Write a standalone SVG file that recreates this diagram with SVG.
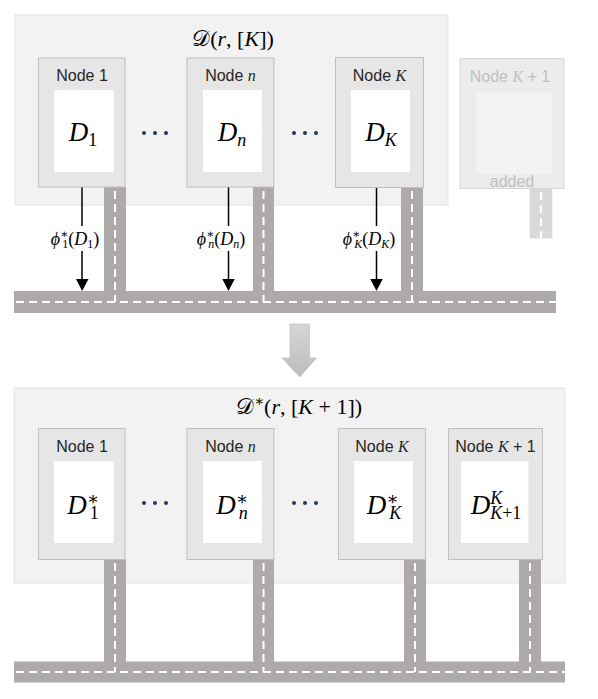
<svg xmlns="http://www.w3.org/2000/svg" width="598" height="699" viewBox="0 0 598 699">
<defs>
<style>
.panel{fill:#f2f2f2;stroke:#e3e3e3;stroke-width:1}
.node{fill:#e7e6e6;stroke:#bfbfbf;stroke-width:1}
.inner{fill:#ffffff}
.fnode{fill:#ececec;stroke:#d6d6d6;stroke-width:1}
.finner{fill:#f3f3f3}
.road{fill:#aeaaaa}
.froad{fill:#d9d9d9;stroke:#cfcfcf;stroke-width:0.5}
.dash{stroke:#ffffff;stroke-width:2;stroke-dasharray:8 5;fill:none}
.lbl{font-family:"Liberation Sans","Open Sans",sans-serif;font-size:16px;fill:#262626;text-anchor:middle}
.flbl{font-family:"Liberation Sans","Open Sans",sans-serif;font-size:16px;fill:#bfbfbf;text-anchor:middle}
.math{font-family:"Liberation Serif","DejaVu Serif",serif;fill:#000000;text-anchor:middle}
.it{font-style:italic}
.dots{fill:#1f3864}
.arr{stroke:#000000;stroke-width:1.5;fill:none}
.head{fill:#000000}
</style>
<linearGradient id="bg" x1="0" y1="0" x2="0" y2="1">
<stop offset="0" stop-color="#d6d6d6"/>
<stop offset="1" stop-color="#bcbcbc"/>
</linearGradient>
</defs>

<!-- top panel -->
<g id="panel-top">
<rect class="panel" x="15" y="15" width="433" height="190"/>
<text class="math" x="233" y="46" font-size="22">𝒟(<tspan class="it">r</tspan>, [<tspan class="it">K</tspan>])</text>
</g>

<!-- roads top -->
<g id="connectors-top">
<rect class="road" x="14" y="291" width="542" height="22"/>
<rect class="road" x="104" y="187" width="22" height="104"/>
<rect class="road" x="253" y="187" width="21" height="104"/>
<rect class="road" x="401" y="187" width="22" height="104"/>
<line class="dash" x1="16" y1="302" x2="556" y2="302"/>
<line class="dash" x1="115" y1="191" x2="115" y2="302"/>
<line class="dash" x1="263.5" y1="191" x2="263.5" y2="302"/>
<line class="dash" x1="412" y1="191" x2="412" y2="302"/>
<rect class="froad" x="530" y="188" width="22" height="50"/>
<line class="dash" x1="541" y1="192" x2="541" y2="238"/>
<line class="arr" x1="82" y1="187" x2="82" y2="226"/>
<line class="arr" x1="82" y1="251" x2="82" y2="280"/>
<polygon class="head" points="76,279 88.5,279 82.2,291"/>
<line class="arr" x1="228.5" y1="187" x2="228.5" y2="226"/>
<line class="arr" x1="228.5" y1="251" x2="228.5" y2="280"/>
<polygon class="head" points="222.3,279 234.7,279 228.5,291"/>
<line class="arr" x1="376.5" y1="187" x2="376.5" y2="226"/>
<line class="arr" x1="376.5" y1="251" x2="376.5" y2="280"/>
<polygon class="head" points="370.3,279 382.7,279 376.5,291"/>
<text class="math" x="75" y="245" font-size="18"><tspan class="it">ϕ</tspan><tspan font-size="12" dy="-7">∗</tspan><tspan font-size="12" dx="-6" dy="10">1</tspan><tspan dy="-3">(</tspan><tspan class="it">D</tspan><tspan font-size="12" dy="3">1</tspan><tspan dy="-3">)</tspan></text>
<text class="math" x="221" y="245" font-size="18"><tspan class="it">ϕ</tspan><tspan font-size="12" dy="-7">∗</tspan><tspan class="it" font-size="12" dx="-6" dy="10">n</tspan><tspan dy="-3">(</tspan><tspan class="it">D</tspan><tspan class="it" font-size="12" dy="3">n</tspan><tspan dy="-3">)</tspan></text>
<text class="math" x="369" y="245" font-size="18"><tspan class="it">ϕ</tspan><tspan font-size="12" dy="-7">∗</tspan><tspan class="it" font-size="12" dx="-6" dy="10">K</tspan><tspan dy="-3">(</tspan><tspan class="it">D</tspan><tspan class="it" font-size="12" dy="3">K</tspan><tspan dy="-3">)</tspan></text>
</g>

<g id="node-1-top">
<rect class="node" x="38.5" y="58" width="86.5" height="129"/>
<rect class="inner" x="54.5" y="90" width="59" height="82"/>
<text class="lbl" x="82" y="81">Node 1</text>
<text class="math" x="83" y="141" font-size="27"><tspan class="it">D</tspan><tspan font-size="18" dy="5">1</tspan></text>
</g>
<g id="node-n-top">
<rect class="node" x="187" y="58" width="87" height="129"/>
<rect class="inner" x="203" y="90" width="59" height="82"/>
<text class="lbl" x="230.5" y="81">Node <tspan class="it" font-family="Liberation Serif">n</tspan></text>
<text class="math" x="232" y="141" font-size="27"><tspan class="it">D</tspan><tspan class="it" font-size="18" dy="5">n</tspan></text>
</g>
<g id="node-K-top">
<rect class="node" x="335.5" y="57.5" width="88" height="130"/>
<rect class="inner" x="351" y="90" width="59" height="82"/>
<text class="lbl" x="379.5" y="81">Node <tspan class="it" font-family="Liberation Serif">K</tspan></text>
<text class="math" x="381" y="141" font-size="27"><tspan class="it">D</tspan><tspan class="it" font-size="18" dy="5">K</tspan></text>
</g>
<g id="node-K1-top">
<rect class="fnode" x="460" y="58.5" width="104" height="130"/>
<rect class="finner" x="476" y="92" width="76" height="82"/>
<text class="flbl" x="510" y="82">Node <tspan class="it" font-family="Liberation Serif">K</tspan> + 1</text>
<text class="flbl" x="512" y="187">added</text>
</g>
<g id="dots-top">
<circle class="dots" cx="144" cy="133" r="2"/><circle class="dots" cx="155" cy="133" r="2"/><circle class="dots" cx="166" cy="133" r="2"/>
<circle class="dots" cx="294" cy="133" r="2"/><circle class="dots" cx="305" cy="133" r="2"/><circle class="dots" cx="316" cy="133" r="2"/>
</g>

<!-- transition arrow -->
<g id="transition">
<polygon points="290,324 309.5,324 309.5,358 316.5,358 299.7,377 282,358 290,358" fill="url(#bg)" stroke="#c4c4c4" stroke-width="0.8"/>
</g>

<!-- bottom panel -->
<g id="panel-bottom">
<rect class="panel" x="14" y="388" width="551" height="195"/>
<text class="math" x="299" y="414" font-size="22">𝒟<tspan font-size="15" dy="-8">∗</tspan><tspan dy="8">(</tspan><tspan class="it">r</tspan>, [<tspan class="it">K</tspan> + 1])</text>
</g>
<g id="connectors-bottom">
<rect class="road" x="14" y="661.5" width="551" height="21"/>
<rect class="road" x="104" y="559" width="22" height="103"/>
<rect class="road" x="253" y="559" width="21" height="103"/>
<rect class="road" x="404" y="559" width="22" height="103"/>
<rect class="road" x="519" y="559" width="22" height="103"/>
<line class="dash" x1="16" y1="672" x2="565" y2="672"/>
<line class="dash" x1="115" y1="563" x2="115" y2="672"/>
<line class="dash" x1="263.5" y1="563" x2="263.5" y2="672"/>
<line class="dash" x1="415" y1="563" x2="415" y2="672"/>
<line class="dash" x1="530" y1="563" x2="530" y2="672"/>
</g>
<g id="node-1-bottom">
<rect class="node" x="38.5" y="428.5" width="86.5" height="131"/>
<rect class="inner" x="54" y="461" width="59.5" height="82"/>
<text class="lbl" x="82" y="452">Node 1</text>
<text class="math" x="83" y="514" font-size="27"><tspan class="it">D</tspan><tspan font-size="18" dy="-9">∗</tspan><tspan font-size="18" dx="-9" dy="14">1</tspan></text>
</g>
<g id="node-n-bottom">
<rect class="node" x="187" y="428.5" width="87" height="131"/>
<rect class="inner" x="203" y="461" width="59" height="82"/>
<text class="lbl" x="230.5" y="452">Node <tspan class="it" font-family="Liberation Serif">n</tspan></text>
<text class="math" x="232" y="514" font-size="27"><tspan class="it">D</tspan><tspan font-size="18" dy="-9">∗</tspan><tspan class="it" font-size="18" dx="-9" dy="14">n</tspan></text>
</g>
<g id="node-K-bottom">
<rect class="node" x="338.5" y="428.5" width="87" height="131"/>
<rect class="inner" x="354" y="461" width="59" height="82"/>
<text class="lbl" x="382" y="452">Node <tspan class="it" font-family="Liberation Serif">K</tspan></text>
<text class="math" x="384" y="514" font-size="27"><tspan class="it">D</tspan><tspan font-size="18" dy="-9">∗</tspan><tspan class="it" font-size="18" dx="-9" dy="14">K</tspan></text>
</g>
<g id="node-K1-bottom">
<rect class="node" x="448.5" y="428.5" width="94" height="131"/>
<rect class="inner" x="461" y="461" width="67.5" height="82"/>
<text class="lbl" x="495.5" y="452">Node <tspan class="it" font-family="Liberation Serif">K</tspan> + 1</text>
<text class="math" x="496" y="514" font-size="27"><tspan class="it">D</tspan><tspan class="it" font-size="18" dy="-10">K</tspan><tspan font-size="18" dx="-12" dy="15"><tspan class="it">K</tspan>+1</tspan></text>
</g>
<g id="dots-bottom">
<circle class="dots" cx="144" cy="503" r="2"/><circle class="dots" cx="155" cy="503" r="2"/><circle class="dots" cx="166" cy="503" r="2"/>
<circle class="dots" cx="294" cy="503" r="2"/><circle class="dots" cx="305" cy="503" r="2"/><circle class="dots" cx="316" cy="503" r="2"/>
</g>
</svg>
